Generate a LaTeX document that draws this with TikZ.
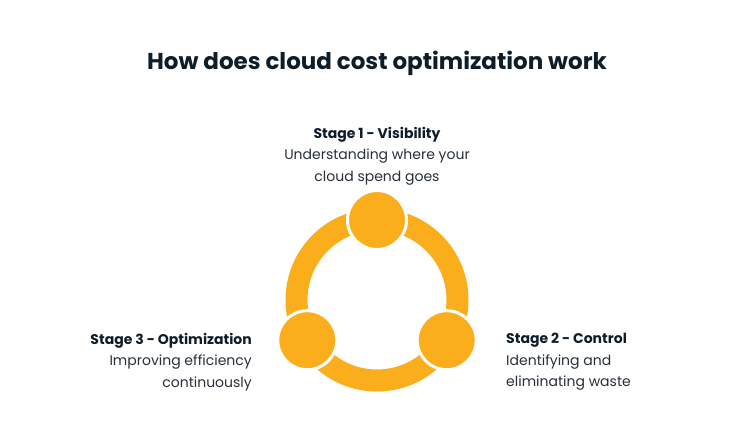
\documentclass[tikz,border=0pt]{standalone}
\usepackage{fontspec}
\setmainfont{Poppins}
\newfontfamily\popbold{Poppins}[UprightFont=* Bold]
\definecolor{ringorange}{RGB}{251,174,27}
\definecolor{navy}{RGB}{14,29,42}
\definecolor{bodytext}{RGB}{40,48,58}
\begin{document}
\begin{tikzpicture}[x=1pt,y=-1pt,
  stagecircle/.style={circle, fill=ringorange, draw=white, line width=3pt, minimum size=59pt, inner sep=0pt},
  titletext/.style={font=\popbold\fontsize{23}{28}\selectfont, text=navy, inner sep=0pt},
  stagetext/.style={font=\fontsize{14}{21.5}\selectfont, text=bodytext, inner sep=0pt}
]
\useasboundingbox[fill=white] (0,0) rectangle (754,446);
\node[titletext] (title) at (377,63.5) {How does cloud cost optimization work};
\coordinate (c) at (377,300);
\draw[ringorange, line width=22pt] (c) circle (80.5);
\node[stagecircle] (s1) at (377,220) {};
\node[stagecircle] (s3) at (307.3,340.2) {};
\node[stagecircle] (s2) at (446.7,340.2) {};
\node[stagetext, align=center, anchor=north] (t1) at (377,127) {{\popbold\color{navy}Stage 1 - Visibility}\\Understanding where your\\cloud spend goes};
\node[stagetext, align=right, anchor=north east] (t3) at (252,333) {{\popbold\color{navy}Stage 3 - Optimization}\\Improving efficiency\\continuously};
\node[stagetext, align=left, anchor=north west] (t2) at (506,333) {{\popbold\color{navy}Stage 2 - Control}\\Identifying and\\eliminating waste};
\end{tikzpicture}
\end{document}
